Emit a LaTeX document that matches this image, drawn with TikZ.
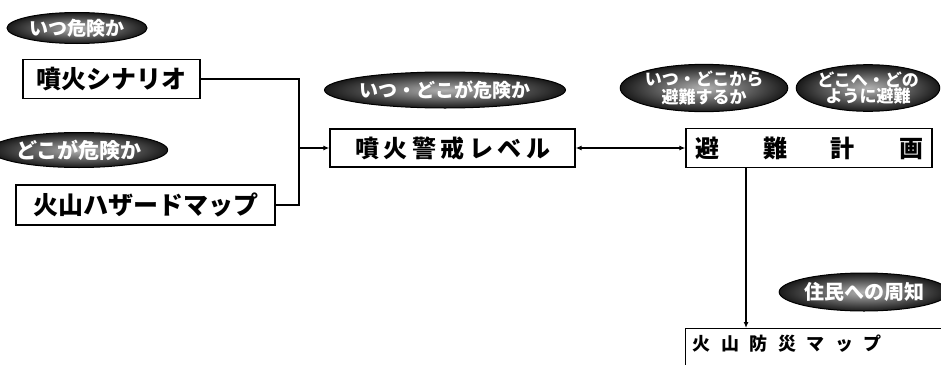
\documentclass[tikz,border=0pt]{standalone}
\usepackage{fontspec}
\setmainfont{Noto Sans CJK JP}
\usetikzlibrary{shapes.geometric,arrows.meta}
\newcommand\jpsize[1]{\fontsize{#1pt}{#1pt}\selectfont}
\begin{document}
\begin{tikzpicture}[x=1pt,y=-1pt,
  >={Latex[length=6pt,width=5pt]},
  box/.style={draw, line width=1.3pt, inner sep=0pt, font=\bfseries\jpsize{25}},
  tag/.style={ellipse, inner sep=0pt, shading=radial, inner color=black!30, outer color=black!90,
    draw=black, line width=1pt, text=white, align=center, font=\bfseries\jpsize{19}},
  link/.style={line width=1.3pt}]
\clip (0,0) rectangle (941,364);
\fill[white] (0,0) rectangle (941,364);
% tags
\node[tag, minimum width=140pt, minimum height=31pt] (t1) at (77,28) {いつ危険か};
\node[tag, minimum width=142pt, minimum height=35pt, font=\bfseries\jpsize{21}] (t2) at (79,150) {どこが危険か};
\node[tag, minimum width=205pt, minimum height=36pt, font=\bfseries\jpsize{19}] (t3) at (445,90) {いつ・どこが危険か};
\node[tag, minimum width=158pt, minimum height=33pt, font=\bfseries\fontsize{17pt}{14pt}\selectfont] (t4) at (704,88) {いつ・どこから\\避難するか};
\node[tag, minimum width=134pt, minimum height=33pt, font=\bfseries\fontsize{17pt}{14pt}\selectfont] (t5) at (868,88) {どこへ・どの\\ように避難};
\node[tag, minimum width=142pt, minimum height=38pt, font=\bfseries\jpsize{20}] (t6) at (864,292) {住民への周知};
% boxes
\node[box, minimum width=177pt, minimum height=39pt] (b1) at (111.5,79) {噴火シナリオ};
\node[box, minimum width=259pt, minimum height=40pt] (b2) at (145.5,205) {火山ハザードマップ};
\node[box, minimum width=245pt, minimum height=38pt, font=\bfseries\jpsize{24}] (b3) at (452.5,148)
  {噴\hspace{4.5pt}火\hspace{4.5pt}警\hspace{4.5pt}戒\hspace{4.5pt}レ\hspace{4.5pt}ベ\hspace{4.5pt}ル};
\node[box, minimum width=246pt, minimum height=39pt, font=\bfseries\jpsize{24}] (b4) at (809,148)
  {避\hspace{44pt}難\hspace{44pt}計\hspace{44pt}画};
\node[box, anchor=north west, inner xsep=7pt, inner ysep=6pt, text height=16pt, text depth=30pt,
  text width=266pt, align=left, font=\bfseries\jpsize{18}] (b6) at (685,328)
  {火\hspace{10.5pt}山\hspace{10.5pt}防\hspace{10.5pt}災\hspace{10.5pt}マ\hspace{10.5pt}ッ\hspace{10.5pt}プ};
% connectors
\coordinate (jm) at (299,148);
\coordinate (dv) at (746,0);
\draw[link] (b1.east) -| (jm) |- (b2.east);
\draw[link,->] (jm) -- (b3.west);
\draw[link,<->] (b3.east) -- (b4.west);
\draw[link,->] (b4.south -| dv) -- (b6.north -| dv);
\end{tikzpicture}
\end{document}
